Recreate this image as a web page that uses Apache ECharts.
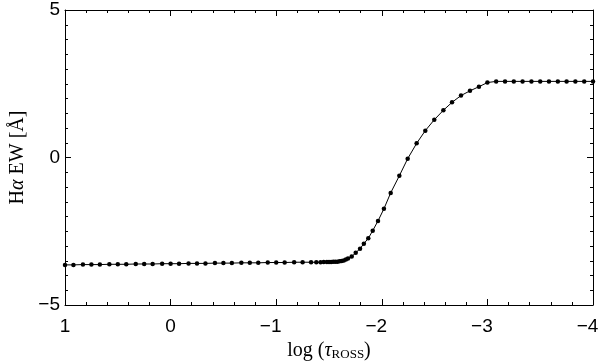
<!DOCTYPE html>
<html>
<head>
<meta charset="utf-8">
<title>H-alpha EW vs log tau</title>
<script src="https://cdn.jsdelivr.net/npm/echarts@6/dist/echarts.min.js"></script>
<style>
  html, body { margin: 0; padding: 0; background: #fff; }
  #chart { width: 600px; height: 361px; }
</style>
</head>
<body>
<div id="chart"></div>
<script>
// log(tau_ROSS) of each depth point, and the H-alpha equivalent width there
const logTau = [
  1.00, 0.92, 0.83, 0.75, 0.67, 0.58, 0.50, 0.42, 0.33, 0.25, 0.17, 0.08, 0.00,
  -0.08, -0.17, -0.25, -0.33, -0.42, -0.50, -0.58, -0.67, -0.75, -0.83, -0.92,
  -1.00, -1.08, -1.17, -1.25, -1.33, -1.38, -1.42, -1.45, -1.48, -1.50, -1.52,
  -1.54, -1.56, -1.58, -1.60, -1.62, -1.64, -1.66, -1.68, -1.715, -1.753,
  -1.794, -1.83, -1.872, -1.914, -1.964, -2.02, -2.084, -2.166, -2.245, -2.33,
  -2.412, -2.497, -2.583, -2.665, -2.75, -2.835, -2.92, -3.00, -3.083, -3.167,
  -3.25, -3.333, -3.417, -3.50, -3.583, -3.667, -3.75, -3.833, -3.917, -4.00
];
const ewHalpha = [
  -3.64, -3.64, -3.63, -3.63, -3.63, -3.62, -3.62, -3.62, -3.61, -3.61, -3.61, -3.60, -3.60,
  -3.60, -3.59, -3.59, -3.59, -3.58, -3.58, -3.58, -3.57, -3.57, -3.57, -3.56,
  -3.56, -3.56, -3.55, -3.55, -3.55, -3.55, -3.55, -3.54, -3.54, -3.54, -3.54,
  -3.53, -3.53, -3.53, -3.52, -3.51, -3.49, -3.46, -3.42, -3.36, -3.23,
  -3.09, -2.92, -2.74, -2.48, -2.15, -1.74, -1.20, -0.62, -0.04, 0.48,
  0.91, 1.28, 1.60, 1.87, 2.10, 2.26, 2.40, 2.54, 2.58, 2.58,
  2.58, 2.58, 2.58, 2.58, 2.58, 2.58, 2.58, 2.58, 2.58, 2.58
];
const xTicks = { min: -4, max: 1, step: 1 };
const yTicks = { min: -5, max: 5, step: 5 };

const sans = 'Liberation Sans';
const serif = 'Liberation Serif';

// minus sign hangs left of the digit, as in the TeX original
const xLabel = v => v < 0 ? '{n|\u2212' + (-v) + '}' : '{p|' + v + '}';
const yLabel = v => String(v).replace('-', '\u2212');

const boxAxis = (extra) => Object.assign({
  type: 'value',
  axisLine: { show: true, onZero: false, lineStyle: { color: '#000', width: 1 } },
  axisTick: { show: true, inside: true, length: 6, lineStyle: { color: '#000' } },
  splitLine: { show: false }
}, extra);

const chart = echarts.init(document.getElementById('chart'));

chart.setOption({
  animation: false,
  backgroundColor: '#fff',
  grid: { left: 65, right: 7, top: 10, bottom: 56, outerBoundsMode: 'none', containLabel: false },
  xAxis: [
    boxAxis({
      position: 'bottom',
      inverse: true,
      min: xTicks.min, max: xTicks.max, interval: xTicks.step,
      minorTick: { show: true, splitNumber: 5, length: 3, lineStyle: { color: '#000' } },
      axisLabel: {
        margin: 12,
        formatter: xLabel,
        rich: {
          n: { color: '#000', fontFamily: sans, fontSize: 19, padding: [0, 11, 0, 0] },
          p: { color: '#000', fontFamily: sans, fontSize: 19 }
        }
      },
      name: '{a|log (}{t|τ}{s|ROSS}{a|)}',
      nameLocation: 'middle',
      nameGap: 33,
      nameTextStyle: {
        fontFamily: serif,
        fontSize: 20,
        color: '#000',
        rich: {
          a: { fontFamily: serif, fontSize: 20, color: '#000' },
          t: { fontFamily: serif, fontSize: 20, fontStyle: 'italic', color: '#000' },
          s: { fontFamily: serif, fontSize: 13, color: '#000', verticalAlign: 'bottom', padding: [8, 0, 0, 0] }
        }
      }
    }),
    boxAxis({
      position: 'top',
      inverse: true,
      min: xTicks.min, max: xTicks.max, interval: xTicks.step,
      minorTick: { show: true, splitNumber: 5, length: 3, lineStyle: { color: '#000' } },
      axisLabel: { show: false }
    })
  ],
  yAxis: [
    boxAxis({
      position: 'left',
      min: yTicks.min, max: yTicks.max, interval: yTicks.step,
      minorTick: { show: true, splitNumber: 10, length: 3, lineStyle: { color: '#000' } },
      axisLabel: { color: '#000', fontFamily: sans, fontSize: 19, margin: 5, formatter: yLabel },
      name: '{a|H}{t|α}{a| EW [Å]}',
      nameLocation: 'middle',
      nameGap: 37,
      nameTextStyle: {
        fontFamily: serif,
        fontSize: 20,
        color: '#000',
        rich: {
          a: { fontFamily: serif, fontSize: 20, color: '#000' },
          t: { fontFamily: serif, fontSize: 20, fontStyle: 'italic', color: '#000' }
        }
      }
    }),
    boxAxis({
      position: 'right',
      min: yTicks.min, max: yTicks.max, interval: yTicks.step,
      minorTick: { show: true, splitNumber: 10, length: 3, lineStyle: { color: '#000' } },
      axisLabel: { show: false }
    })
  ],
  series: [
    {
      type: 'line',
      xAxisIndex: 0,
      yAxisIndex: 0,
      data: logTau.map((x, i) => [x, ewHalpha[i]]),
      symbol: 'circle',
      symbolSize: 4.5,
      showAllSymbol: true,
      clip: false,
      itemStyle: { color: '#000' },
      lineStyle: { color: '#000', width: 1 }
    }
  ]
});

window.addEventListener('resize', () => {
  chart && chart.resize();
});
</script>
</body>
</html>
